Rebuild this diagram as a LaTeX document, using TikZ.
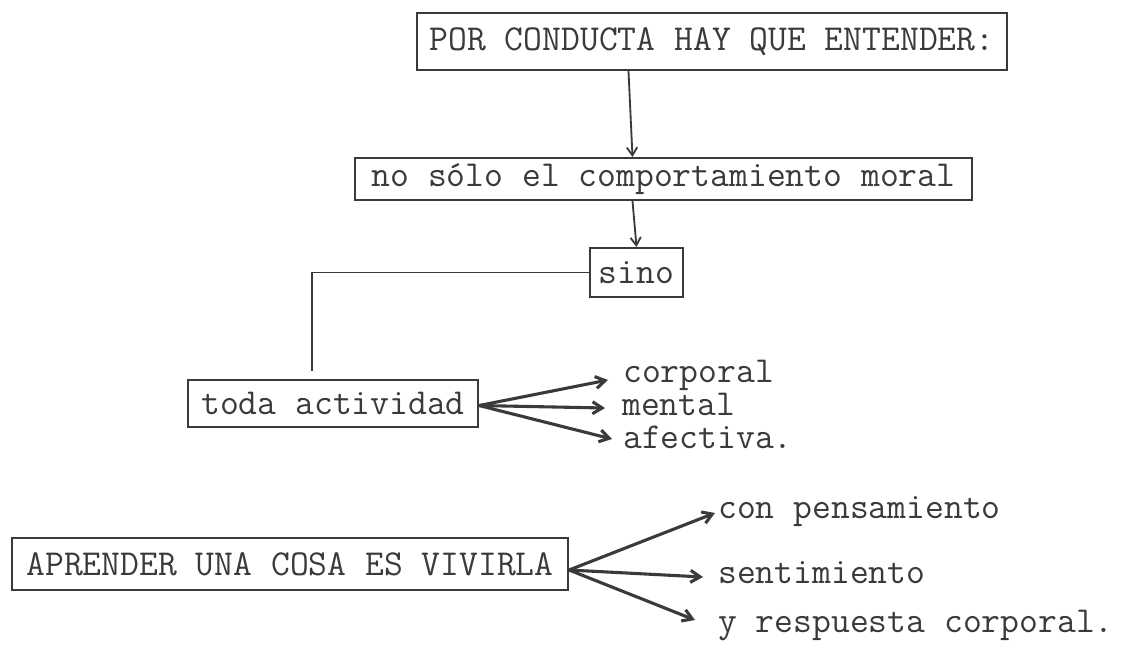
\documentclass[tikz,border=0pt]{standalone}
\usepackage{xcolor}
\usepackage{fontspec}
\usepackage{tikz}
\usetikzlibrary{arrows.meta, positioning, calc}
\definecolor{tinta}{HTML}{3A3A3A}

\begin{document}
\begin{tikzpicture}[
    x=0.025cm, y=-0.025cm,
    font=\ttfamily\fontsize{26}{30}\selectfont,
    text=tinta,
    caja/.style={draw=tinta, line width=1.4pt, inner sep=0pt},
    etiqueta/.style={inner sep=0pt, anchor=base west},
    flecha/.style={draw=tinta, line width=1.3pt,
                   -{Straight Barb[length=2mm, width=2.6mm]}},
    rama/.style={draw=tinta, line width=2.2pt,
                 -{Straight Barb[length=2.4mm, width=3mm]}},
    linea/.style={draw=tinta, line width=1.3pt}
  ]
  \useasboundingbox (0,0) rectangle (1124,647);

  % --- Cajas ---
  \node[caja, minimum width=14.75cm, minimum height=1.425cm] (conducta)
    at (712,41.5) {POR CONDUCTA HAY QUE ENTENDER:};
  \node[caja, minimum width=15.425cm, minimum height=1.05cm] (moral)
    at (663.5,179) {no sólo el comportamiento moral};
  \node[caja, minimum width=2.325cm, minimum height=1.225cm] (sino)
    at (636.5,272.5) {sino};
  \node[caja, minimum width=7.25cm, minimum height=1.175cm] (toda)
    at (333,403.5) {toda actividad};
  \node[caja, minimum width=13.9cm, minimum height=1.3cm] (aprender)
    at (290,564) {APRENDER UNA COSA ES VIVIRLA};

  % --- Etiquetas de las ramas ---
  \node[etiqueta] (corporal) at (623,382) {corporal};
  \node[etiqueta] (mental) at (622,415) {mental};
  \node[etiqueta] (afectiva) at (623,448) {afectiva.};
  \node[etiqueta] (pensamiento) at (718,518) {con pensamiento};
  \node[etiqueta] (sentimiento) at (718,583) {sentimiento};
  \node[etiqueta] (respuesta) at (718,632) {y respuesta corporal.};

  % --- Conectores ---
  \draw[flecha] ([xshift=-0.2cm]conducta.south -| sino) -- ([xshift=-0.1cm]moral.north -| sino);
  \draw[flecha] ([xshift=-0.1cm]moral.south -| sino) -- (sino.north);
  \draw[linea, shorten >=0.2cm] (sino.west) -| ([xshift=-0.525cm]toda.north);

  \draw[rama] ([yshift=-0.05cm]toda.east) -- ([shift={(-15,-2)}]corporal.base west);
  \draw[rama] ([yshift=-0.05cm]toda.east) -- ([shift={(-17,-7)}]mental.base west);
  \draw[rama] ([yshift=-0.05cm]toda.east) -- ([shift={(-11,-9)}]afectiva.base west);

  \draw[rama] ([yshift=-0.15cm]aprender.east) -- ([shift={(-3,-5)}]pensamiento.base west);
  \draw[rama] ([yshift=-0.15cm]aprender.east) -- ([shift={(-15,-6)}]sentimiento.base west);
  \draw[rama] ([yshift=-0.15cm]aprender.east) -- ([shift={(-23,-12)}]respuesta.base west);
\end{tikzpicture}
\end{document}
